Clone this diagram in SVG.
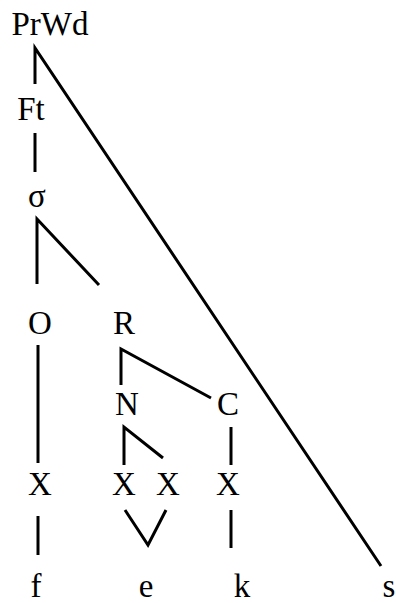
<svg xmlns="http://www.w3.org/2000/svg" width="396" height="603" viewBox="0 0 396 603">
<style>
text{font-family:"Liberation Serif","Times New Roman",serif;font-size:33px;fill:#000;text-anchor:middle}
.e{stroke:#000;stroke-width:3;fill:none;stroke-linecap:butt;stroke-linejoin:miter}
</style>
<rect width="396" height="603" fill="#fff"/>
<g id="connectors">
<path class="e" d="M35,84 V48 L381,566"/>
<path class="e" d="M35,133 V172"/>
<path class="e" d="M37,284 V219 L99,285"/>
<path class="e" d="M38,345 V463"/>
<path class="e" d="M121,385 V349 L211,398"/>
<path class="e" d="M124,465 V427 L163,458"/>
<path class="e" d="M231,427 V465"/>
<path class="e" d="M38,516 V555"/>
<path class="e" d="M125,510 L148,545 L166,510"/>
<path class="e" d="M231,510 V548"/>
</g>
<g id="PrWd"><text x="50" y="35">PrWd</text></g>
<g id="Ft"><text x="31" y="120">Ft</text></g>
<g id="sigma"><text x="37" y="207">σ</text></g>
<g id="O"><text x="40" y="334">O</text></g>
<g id="R"><text x="124" y="334">R</text></g>
<g id="N"><text x="127" y="415">N</text></g>
<g id="C"><text x="228" y="415">C</text></g>
<g id="X1"><text x="40" y="495">X</text></g>
<g id="X2"><text x="124" y="495">X</text></g>
<g id="X3"><text x="168" y="495">X</text></g>
<g id="X4"><text x="228" y="495">X</text></g>
<g id="f"><text x="36" y="597">f</text></g>
<g id="e"><text x="146" y="597">e</text></g>
<g id="k"><text x="242" y="597">k</text></g>
<g id="s"><text x="389" y="597">s</text></g>
</svg>
